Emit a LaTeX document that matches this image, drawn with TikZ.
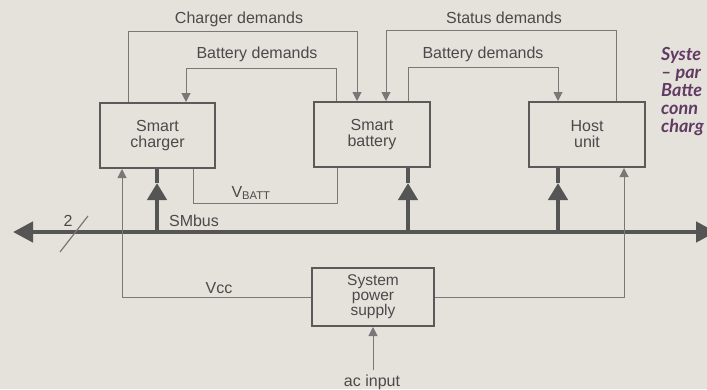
\documentclass[tikz,border=0pt]{standalone}
\usepackage{fontspec}
\setmainfont{Liberation Sans}
\newfontfamily\capfont{Lato}
\usetikzlibrary{arrows.meta}
\definecolor{bg}{HTML}{E5E2DC}
\definecolor{ink}{HTML}{4A4A4A}
\definecolor{wire}{HTML}{787878}
\definecolor{boxc}{HTML}{5A5A5A}
\definecolor{busc}{HTML}{555555}
\definecolor{capc}{HTML}{603A62}
\begin{document}
\begin{tikzpicture}[x=1bp,y=-1bp,
  blk/.style={draw=boxc,line width=2bp,minimum width=115bp,minimum height=65bp,inner sep=0pt,align=center,text=ink,font=\fontsize{16bp}{16bp}\selectfont},
  lbl/.style={text=ink,font=\fontsize{16bp}{16bp}\selectfont,inner sep=0pt},
  wireline/.style={draw=wire,line width=1bp},
  arr/.style={wireline,-{Triangle[length=9bp,width=9bp]}},
  stemline/.style={draw=busc,line width=4.5bp},
  stemarr/.style={stemline,-{Triangle[length=17bp,width=19bp]}},
  capt/.style={anchor=base west,text=capc,inner sep=0pt,font=\capfont\bfseries\itshape\fontsize{18bp}{18bp}\selectfont}
]
\fill[bg] (0,0) rectangle (707,389);
\useasboundingbox (0,0) rectangle (707,389);

% blocks
\node[blk] (charger) at (157.5,135.5) {Smart\\charger};
\node[blk,minimum width=116bp] (battery) at (372,134.5) {Smart\\battery};
\node[blk,minimum width=116bp] (host) at (587,134.5) {Host\\unit};
\node[blk,minimum width=122bp,minimum height=58bp,font=\fontsize{15.5bp}{15bp}\selectfont] (psu) at (373,297) {System\\power\\supply};

% bus
\coordinate (busL) at (13,232);
\coordinate (busR) at (716,232);
\draw[stemline,{Triangle[length=20bp,width=20bp]}-{Triangle[length=20bp,width=20bp]}] (busL) -- (busR);

% bus stems
\coordinate (s1) at (157,183);
\coordinate (s2) at (408,183);
\coordinate (s3) at (558,183);
\draw[stemarr] (s1 |- busL) -- (s1);
\draw[stemline] (s1) -- (s1 |- charger.south);
\draw[stemarr] (s2 |- busL) -- (s2);
\draw[stemline] (s2) -- (s2 |- battery.south);
\draw[stemarr] (s3 |- busL) -- (s3);
\draw[stemline] (s3) -- (s3 |- host.south);

% demand wires
\draw[arr] (128,0 |- charger.north) |- (357,31) -- (357,0 |- battery.north);
\draw[arr] (336,0 |- battery.north) |- (186,68) -- (186,0 |- charger.north);
\draw[arr] (616,0 |- host.north) |- (386,30) -- (386,0 |- battery.north);
\draw[arr] (408,0 |- battery.north) |- (558,67) -- (558,0 |- host.north);

% V_BATT
\draw[wireline] (193,0 |- charger.south) |- (337,203) -- (337,0 |- battery.south);

% power
\draw[arr] (psu.west) -| (122,0 |- charger.south);
\draw[arr] (psu.east) -| (624,0 |- host.south);
\node[lbl] (ac) at (372,382) {ac input};
\draw[arr] (ac.north -| psu.south) ++(0,-4) -- (psu.south);

% slash
\draw[wireline,line width=1.2bp] (60,252) -- (88,216);

% labels
\node[lbl] at (239,19) {Charger demands};
\node[lbl] at (257,54) {Battery demands};
\node[lbl] at (504,18) {Status demands};
\node[lbl] at (483,54) {Battery demands};
\node[lbl] at (194,221) {SMbus};
\node[lbl] at (68,221) {2};
\node[lbl] at (251,193) {V\textsubscript{BATT}};
\node[lbl] at (219,288) {Vcc};

% caption (cut at the page edge)
\node[capt] at (661,60) {Syste};
\node[capt] at (661,78) {– par};
\node[capt] at (661,96) {Batte};
\node[capt] at (661,114) {conn};
\node[capt] at (661,132) {charg};
\end{tikzpicture}
\end{document}
